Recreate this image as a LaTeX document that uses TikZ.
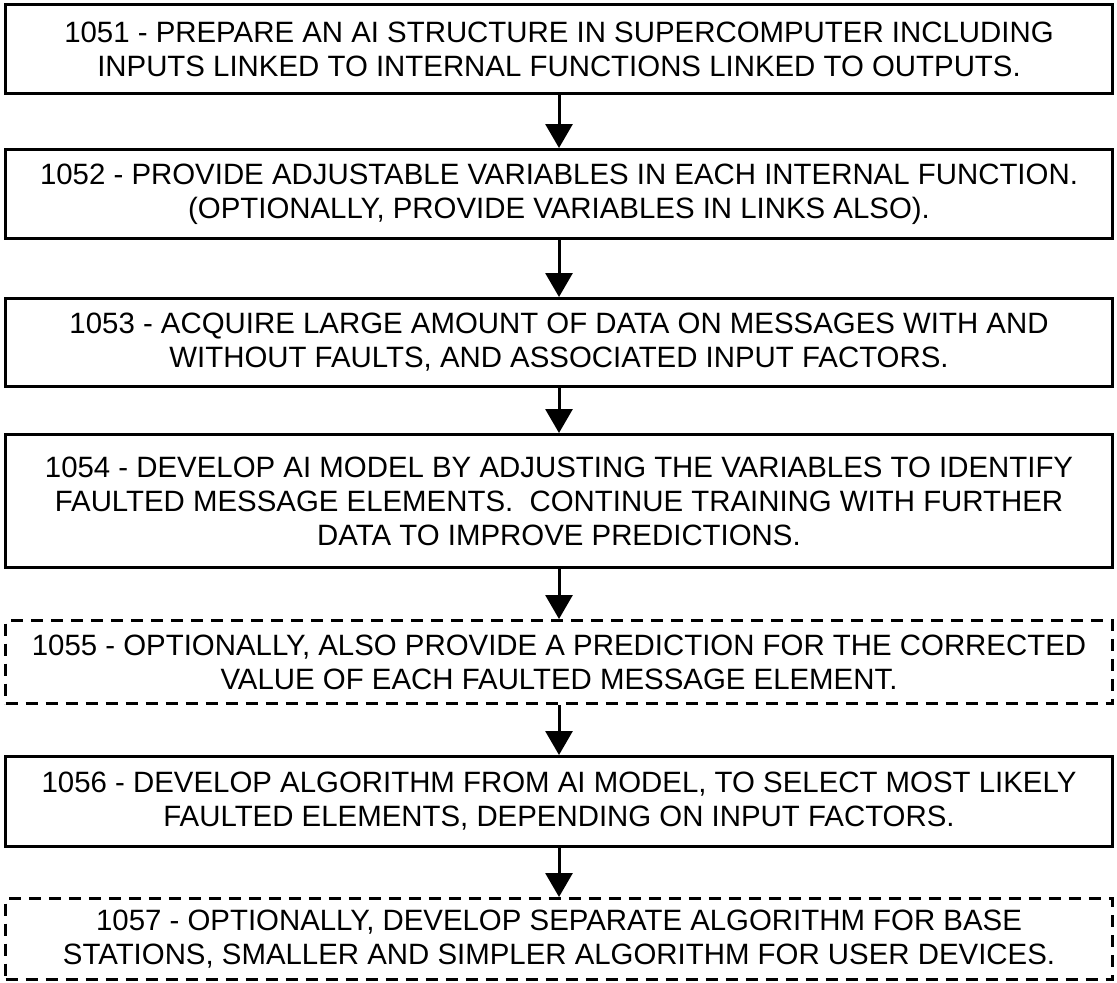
\documentclass[tikz,border=0pt]{standalone}
\usepackage{fontspec}
\setmainfont{Liberation Sans}
\usetikzlibrary{arrows.meta}
\begin{document}
\begin{tikzpicture}[x=1pt,y=1pt,
  stepbox/.style={draw=black, line width=3pt, inner sep=0pt, align=center,
    minimum width=1107pt, font=\fontsize{29.4}{34}\selectfont, text=black},
  optbox/.style={stepbox, dash pattern=on 12pt off 8pt},
  flow/.style={line width=3pt, -{Triangle[length=24pt,width=27pt]}}]
\useasboundingbox[fill=white] (0,0) rectangle (1117,-983);
\node[stepbox, minimum height=89pt] (s1) at (559,-49)
  {1051 - PREPARE AN AI STRUCTURE IN SUPERCOMPUTER INCLUDING\\INPUTS LINKED TO INTERNAL FUNCTIONS LINKED TO OUTPUTS.};
\node[stepbox, minimum height=89pt] (s2) at (559,-194)
  {1052 - PROVIDE ADJUSTABLE VARIABLES IN EACH INTERNAL FUNCTION.\\(OPTIONALLY, PROVIDE VARIABLES IN LINKS ALSO).};
\node[stepbox, minimum height=88pt] (s3) at (559,-342.5)
  {1053 - ACQUIRE LARGE AMOUNT OF DATA ON MESSAGES WITH AND\\WITHOUT FAULTS, AND ASSOCIATED INPUT FACTORS.};
\node[stepbox, minimum height=133pt] (s4) at (559,-501)
  {1054 - DEVELOP AI MODEL BY ADJUSTING THE VARIABLES TO IDENTIFY\\FAULTED MESSAGE ELEMENTS.\ \ CONTINUE TRAINING WITH FURTHER\\DATA TO IMPROVE PREDICTIONS.};
\node[optbox, minimum height=83pt] (s5) at (559,-662)
  {1055 - OPTIONALLY, ALSO PROVIDE A PREDICTION FOR THE CORRECTED\\VALUE OF EACH FAULTED MESSAGE ELEMENT.};
\node[stepbox, minimum height=90pt] (s6) at (559,-801.5)
  {1056 - DEVELOP ALGORITHM FROM AI MODEL, TO SELECT MOST LIKELY\\FAULTED ELEMENTS, DEPENDING ON INPUT FACTORS.};
\node[optbox, minimum height=81pt] (s7) at (559,-939)
  {1057 - OPTIONALLY, DEVELOP SEPARATE ALGORITHM FOR BASE\\STATIONS, SMALLER AND SIMPLER ALGORITHM FOR USER DEVICES.};
\draw[flow] (s1.south) -- (s2.north);
\draw[flow] (s2.south) -- (s3.north);
\draw[flow] (s3.south) -- (s4.north);
\draw[flow] (s4.south) -- (s5.north);
\draw[flow] (s5.south) -- (s6.north);
\draw[flow] (s6.south) -- (s7.north);
\end{tikzpicture}
\end{document}
